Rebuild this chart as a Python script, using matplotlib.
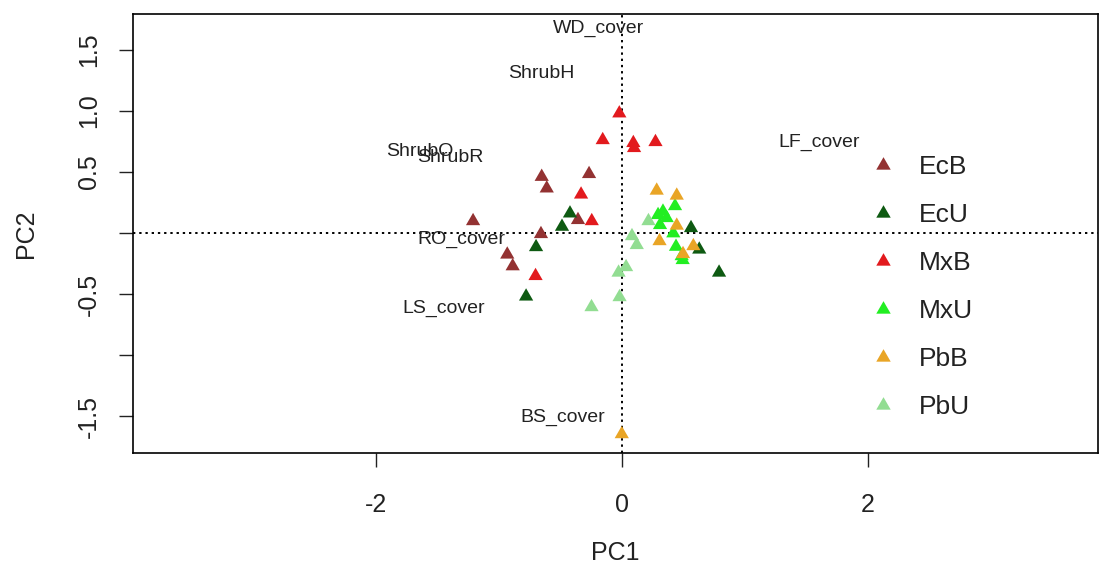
import matplotlib
matplotlib.use("Agg")
import matplotlib.pyplot as plt
from matplotlib.path import Path
from matplotlib.lines import Line2D

plt.rcParams['font.family'] = ['Liberation Sans', 'DejaVu Sans']

# ---- data (site scores on PC1/PC2 by group) ----
groups = ["EcB", "EcU", "MxB", "MxU", "PbB", "PbU"]
colors = ["#933232", "#0E5A12", "#E21A1E", "#22EE22", "#E9A526", "#92DD92"]

EcB_x = [-0.653, -0.612, -0.268, -1.211, -0.358, -0.659, -0.933, -0.889]
EcB_y = [0.461, 0.366, 0.484, 0.098, 0.107, -0.008, -0.176, -0.272]
EcU_x = [-0.423, -0.488, -0.699, -0.780, 0.561, 0.628, 0.789]
EcU_y = [0.161, 0.052, -0.115, -0.520, 0.041, -0.135, -0.324]
MxB_x = [-0.022, -0.157, 0.092, 0.098, 0.272, -0.333, -0.246, -0.703]
MxB_y = [0.981, 0.762, 0.738, 0.697, 0.746, 0.316, 0.098, -0.352]
MxU_x = [0.431, 0.293, 0.333, 0.309, 0.363, 0.417, 0.439, 0.485, 0.493]
MxU_y = [0.221, 0.148, 0.176, 0.066, 0.123, -0.002, -0.112, -0.189, -0.221]
PbB_x = [0.282, 0.445, 0.445, 0.305, 0.580, -0.002, 0.496]
PbB_y = [0.348, 0.307, 0.061, -0.066, -0.107, -1.648, -0.172]
PbU_x = [0.215, 0.081, 0.120, -0.028, 0.033, -0.020, -0.248]
PbU_y = [0.098, -0.025, -0.098, -0.324, -0.279, -0.525, -0.607]

series_x = [EcB_x, EcU_x, MxB_x, MxU_x, PbB_x, PbU_x]
series_y = [EcB_y, EcU_y, MxB_y, MxU_y, PbB_y, PbU_y]

# variable labels (loadings positions)
var_names = ["WD_cover", "ShrubH", "ShrubO", "ShrubR", "LF_cover", "RO_cover", "LS_cover", "BS_cover"]
var_x = [-0.19, -0.66, -1.64, -1.40, 1.60, -1.31, -1.45, -0.48]
var_y = [1.68, 1.31, 0.67, 0.62, 0.74, -0.05, -0.62, -1.51]

xticks = [-2, 0, 2]
yticks = [-1.5, -1.0, -0.5, 0.0, 0.5, 1.0, 1.5]
ytick_labels = ["-1.5", "", "-0.5", "", "0.5", "1.0", "1.5"]

# ---- figure ----
W, H = 1103, 579
fig = plt.figure(figsize=(W / 100, H / 100), dpi=100)
L, R, T, B = 133, 1098, 14, 453
ax = fig.add_axes([L / W, (H - B) / H, (R - L) / W, (B - T) / H])

tri = Path([(0, 0.577), (-0.5, -0.289), (0.5, -0.289), (0, 0.577)],
           [Path.MOVETO, Path.LINETO, Path.LINETO, Path.CLOSEPOLY])

ax.axhline(0, color="black", lw=1.4, linestyle=(0, (1.2, 2.0)), zorder=1)
ax.axvline(0, color="black", lw=1.4, linestyle=(0, (1.2, 2.0)), zorder=1)

for gx, gy, c in zip(series_x, series_y, colors):
    ax.scatter(gx, gy, marker=tri, s=140, color=c, edgecolors="none", zorder=3)

for name, vx, vy in zip(var_names, var_x, var_y):
    ax.text(vx, vy, name, fontsize=14, color="#222222", ha="center", va="center", zorder=4)

ax.set_xlim(-3.976, 3.870)
ax.set_ylim(-1.803, 1.795)
ax.set_xticks(xticks)
ax.set_xticklabels([str(t) for t in xticks])
ax.set_yticks(yticks)
ax.set_yticklabels(ytick_labels, rotation=90, va="center")
ax.tick_params(axis="both", length=10, width=1.0, labelsize=18, colors="#222222")
ax.tick_params(axis="x", pad=19)
ax.tick_params(axis="y", pad=13)
for s in ax.spines.values():
    s.set_linewidth(1.2)
    s.set_color("black")

ax.set_xlabel("PC1", fontsize=18, color="#222222", labelpad=17)
ax.set_ylabel("PC2", fontsize=18, color="#222222", labelpad=28)

handles = [Line2D([], [], linestyle="none", marker=tri, markersize=12,
                  markerfacecolor=c, markeredgecolor="none") for c in colors]
leg = ax.legend(handles, groups, loc="upper left",
                bbox_to_anchor=((870 - L) / (R - L), (B - 155) / (B - T)),
                frameon=False, fontsize=19, labelspacing=0.91,
                handlelength=1.0, handletextpad=0.85, borderpad=0, borderaxespad=0)
for t in leg.get_texts():
    t.set_color("#222222")

fig.savefig("out.png", dpi=100)
